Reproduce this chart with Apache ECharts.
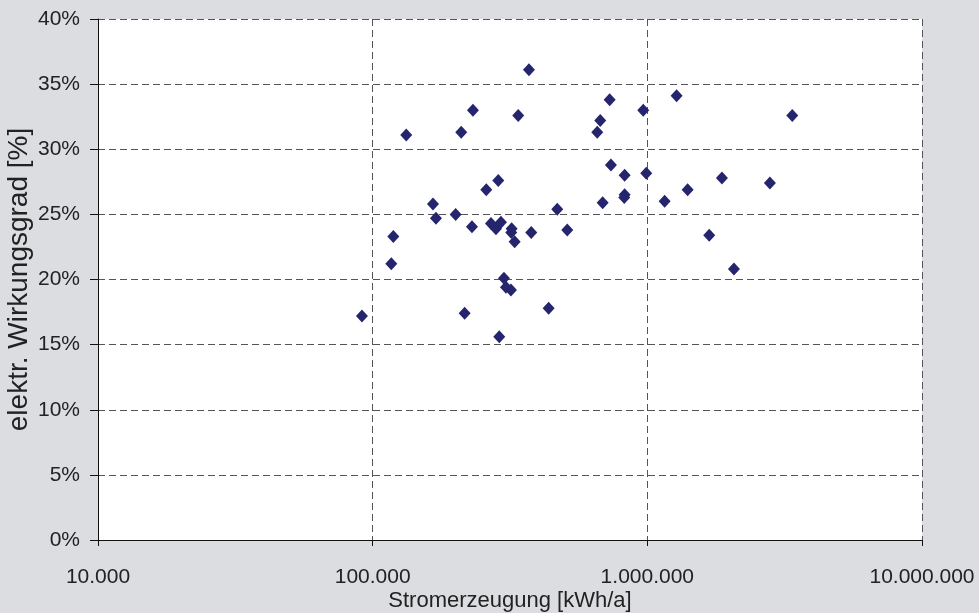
<!DOCTYPE html>
<html>
<head>
<meta charset="utf-8">
<script src="https://cdn.jsdelivr.net/npm/echarts@6/dist/echarts.min.js"></script>
<style>
html,body{margin:0;padding:0;background:#dcdde0;}
#c{width:979px;height:613px;}
</style>
</head>
<body>
<div id="c"></div>
<script>
// Stromerzeugung [kWh/a]
const xValues = [91400,116900,118900,132500,165800,170000,200500,210100,216200,229900,231800,259200,269600,281100,286600,289000,293100,300600,305700,318700,319500,320600,328800,338800,370700,377900,437200,469900,511000,657100,673800,687600,729200,737000,826800,826800,824000,966300,990800,1156000,1278000,1402000,1680000,1869000,2067000,2794000,3370000];
// elektr. Wirkungsgrad [%]
const yValues = [17.2,21.2,23.3,31.1,25.8,24.7,25.0,31.3,17.4,24.05,33.0,26.9,24.3,23.9,27.6,15.6,24.4,20.1,19.4,19.2,23.6,23.9,22.9,32.6,36.1,23.6,17.8,25.4,23.8,31.3,32.2,25.9,33.8,28.8,28.0,26.5,26.3,33.0,28.15,26.0,34.1,26.9,23.4,27.8,20.8,27.4,32.6];
const xTicks = [10000,100000,1000000,10000000];
const yMin = 0, yMax = 40, yStep = 5;
const xName = 'Stromerzeugung [kWh/a]';
const yName = 'elektr. Wirkungsgrad [%]';

function deNum(v){
  return String(Math.round(v)).replace(/\B(?=(\d{3})+(?!\d))/g,'.');
}
const pts = xValues.map((x,i)=>[x,yValues[i]]);
const font = 'Liberation Sans, Arial, sans-serif';
const chart = echarts.init(document.getElementById('c'));
chart.setOption({
  backgroundColor:'#dcdde0',
  animation:false,
  grid:{left:98,right:57,top:19,bottom:73,containLabel:false,outerBoundsMode:'none',show:true,backgroundColor:'#ffffff',borderWidth:0},
  xAxis:{
    type:'log', logBase:10, min:xTicks[0], max:xTicks[xTicks.length-1],
    name:xName, nameLocation:'middle', nameGap:50, nameMoveOverlap:false,
    nameTextStyle:{fontFamily:font,fontSize:22,color:'#222'},
    axisLine:{show:true,onZero:false,lineStyle:{color:'#111',width:1}},
    axisTick:{show:true,length:6,lineStyle:{color:'#111'}},
    axisLabel:{fontFamily:font,fontSize:21,color:'#222',margin:27,formatter:deNum,showMinLabel:true,showMaxLabel:true},
    splitLine:{show:true,lineStyle:{color:'#555',type:[7,4],width:1}},
    minorTick:{show:false}, minorSplitLine:{show:false}
  },
  yAxis:{
    type:'value', min:yMin, max:yMax, interval:yStep,
    name:yName, nameLocation:'middle', nameGap:65, nameRotate:90, nameMoveOverlap:false,
    nameTextStyle:{fontFamily:font,fontSize:28,color:'#222'},
    axisLine:{show:true,lineStyle:{color:'#111',width:1}},
    axisTick:{show:true,length:8,lineStyle:{color:'#111'}},
    axisLabel:{fontFamily:font,fontSize:21,color:'#222',margin:18,formatter:'{value}%'},
    splitLine:{show:true,lineStyle:{color:'#555',type:[7,4],width:1}}
  },
  series:[{
    type:'scatter', data:pts, symbol:'diamond', symbolSize:[12,13],
    itemStyle:{color:'#25256e',opacity:1}
  }]
});
</script>
</body>
</html>
